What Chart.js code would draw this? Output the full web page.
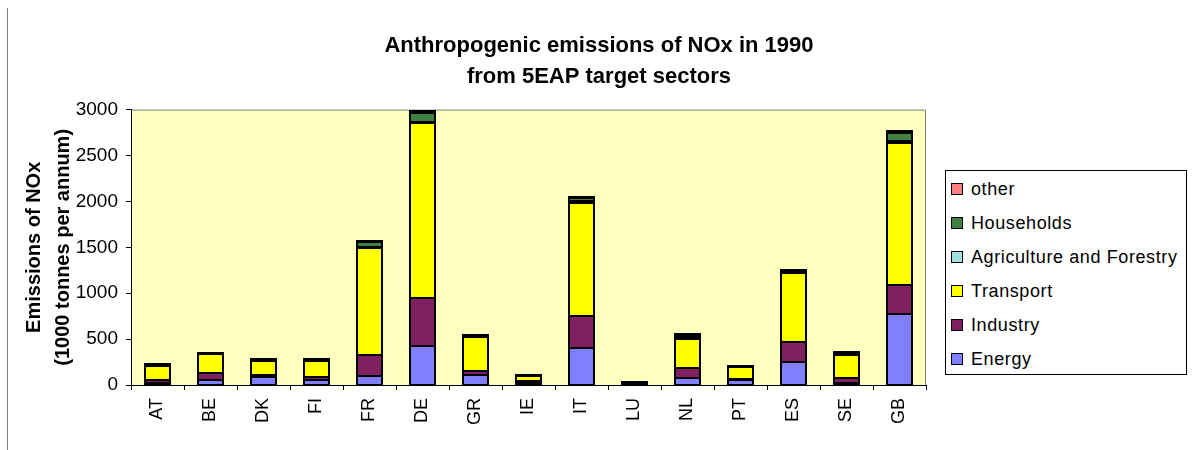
<!DOCTYPE html>
<html>
<head>
<meta charset="utf-8">
<title>Anthropogenic emissions of NOx in 1990</title>
<script src="https://cdn.jsdelivr.net/npm/chart.js@4.4.1/dist/chart.umd.min.js"></script>
<style>
  html, body { margin: 0; padding: 0; background: #ffffff; }
  #wrap { position: relative; width: 1198px; height: 450px; overflow: hidden; }
  #edge { position: absolute; left: 7px; top: 8px; width: 1px; height: 442px; background: #808080; }
  #legend {
    position: absolute; left: 945px; top: 170px; width: 242px; height: 205px;
    box-sizing: border-box; border: 1px solid #000; background: #fff; padding-top: 1px;
    font-family: "Liberation Sans", Arial, sans-serif; font-size: 18px; letter-spacing: 0.6px; color: #000;
  }
  .legend-item { display: flex; align-items: center; height: 34px; white-space: nowrap; }
  .legend-swatch { width: 10px; height: 10px; border: 1px solid #000; margin: 0 8px 0 5px; flex: none; }
</style>
</head>
<body>
<div id="wrap">
  <canvas id="noxChart" width="1198" height="450"></canvas>
  <div id="edge"></div>
  <div id="legend"></div>
</div>
<script>
const FONT = '"Liberation Sans", Arial, sans-serif';

const countries = ["AT", "BE", "DK", "FI", "FR", "DE", "GR", "IE", "IT", "LU", "NL", "PT", "ES", "SE", "GB"];

// 1000 tonnes per annum
const energy      = [20, 55, 90, 55, 100, 425, 110, 25, 405, 3, 75, 55, 250, 25, 775];
const industry    = [35, 80, 15, 35, 230, 520, 45, 20, 350, 10, 105, 15, 220, 55, 315];
const transport   = [150, 200, 160, 170, 1165, 1910, 370, 50, 1225, 12, 325, 125, 750, 250, 1550];
const agriculture = [5, 3, 3, 5, 10, 10, 10, 5, 20, 1, 15, 5, 15, 5, 15];
const households  = [15, 12, 10, 10, 55, 100, 10, 7, 40, 1, 30, 5, 10, 15, 95];
const other       = [5, 3, 2, 5, 10, 15, 5, 3, 10, 1, 10, 3, 5, 5, 20];

const yTicks = { min: 0, max: 3000, step: 500 };

const series = [
  { label: "Energy", data: energy, color: "#8080FF" },
  { label: "Industry", data: industry, color: "#802060" },
  { label: "Transport", data: transport, color: "#FFFF00" },
  { label: "Agriculture and Forestry", data: agriculture, color: "#A0E0E0" },
  { label: "Households", data: households, color: "#408040" },
  { label: "other", data: other, color: "#FF8080" }
];

const plotBackground = {
  id: "plotBackground",
  beforeDraw(chart) {
    const { ctx, chartArea: a } = chart;
    ctx.save();
    ctx.fillStyle = "#FFFFC0";
    ctx.fillRect(a.left, a.top, a.right - a.left, a.bottom - a.top);
    ctx.strokeStyle = "#808080";
    ctx.lineWidth = 1;
    ctx.beginPath();
    ctx.moveTo(a.left, a.top + 0.5);
    ctx.lineTo(a.right - 0.5, a.top + 0.5);
    ctx.lineTo(a.right - 0.5, a.bottom);
    ctx.stroke();
    ctx.restore();
  }
};

// crisp black outline round every stacked segment, snapped to whole pixels
const segmentOutlines = {
  id: "segmentOutlines",
  afterDatasetsDraw(chart) {
    const { ctx } = chart;
    ctx.save();
    ctx.strokeStyle = "#000";
    ctx.lineWidth = 2;
    chart.data.datasets.forEach((_, i) => {
      chart.getDatasetMeta(i).data.forEach((bar) => {
        const { x, y, base, width } = bar.getProps(["x", "y", "base", "width"], true);
        const left = Math.round(x - width / 2);
        const right = Math.round(x + width / 2);
        const top = Math.round(Math.min(y, base));
        const bottom = Math.round(Math.max(y, base));
        ctx.strokeRect(left, top, right - left, bottom - top);
      });
    });
    ctx.restore();
  }
};

function renderLegend(datasets) {
  const host = document.getElementById("legend");
  host.innerHTML = datasets
    .slice()
    .reverse()
    .map((ds) => `
      <div class="legend-item">
        <span class="legend-swatch" style="background:${ds.backgroundColor}"></span>
        <span>${ds.label}</span>
      </div>`)
    .join("");
}

const chart = new Chart(document.getElementById("noxChart"), {
  type: "bar",
  data: {
    labels: countries,
    datasets: series.map((s) => ({
      label: s.label,
      data: s.data,
      backgroundColor: s.color,
      borderWidth: 0,
      barPercentage: 0.46,
      categoryPercentage: 1
    }))
  },
  options: {
    responsive: false,
    devicePixelRatio: 1,
    animation: false,
    layout: { padding: 0 },
    plugins: {
      legend: { display: false },
      tooltip: { enabled: false },
      title: {
        display: true,
        text: ["Anthropogenic emissions of NOx in 1990", "from 5EAP target sectors"],
        color: "#000",
        font: { family: FONT, size: 22, weight: "bold", lineHeight: 1.4 },
        padding: { top: 31, bottom: 17 }
      }
    },
    scales: {
      x: {
        stacked: true,
        grid: { drawOnChartArea: false, drawTicks: true, tickLength: 5, color: "#000", offset: true },
        border: { color: "#000", width: 1 },
        ticks: {
          color: "#000",
          font: { family: FONT, size: 18 },
          minRotation: 90,
          maxRotation: 90,
          autoSkip: false,
          padding: 8
        },
        afterFit(scale) { scale.height = 65; }
      },
      y: {
        stacked: true,
        min: yTicks.min,
        max: yTicks.max,
        grid: { drawOnChartArea: false, drawTicks: true, tickLength: 5, color: "#000" },
        border: { color: "#000", width: 1 },
        ticks: {
          stepSize: yTicks.step,
          color: "#000",
          font: { family: FONT, size: 19 },
          padding: 8,
          callback: (value) => String(value)
        },
        title: {
          display: true,
          text: ["Emissions of NOx", "(1000 tonnes per annum)"],
          color: "#000",
          font: { family: FONT, size: 20, weight: "bold", lineHeight: 1.45 },
          padding: { top: 20, bottom: 0 }
        },
        afterFit(scale) { scale.width = 131; }
      },
      // empty right-hand axis that keeps room for the legend box
      yRight: {
        position: "right",
        min: yTicks.min,
        max: yTicks.max,
        grid: { display: false },
        border: { display: false },
        ticks: { display: false },
        afterFit(scale) { scale.width = 272; }
      }
    }
  },
  plugins: [plotBackground, segmentOutlines]
});

renderLegend(chart.data.datasets);
</script>
</body>
</html>
